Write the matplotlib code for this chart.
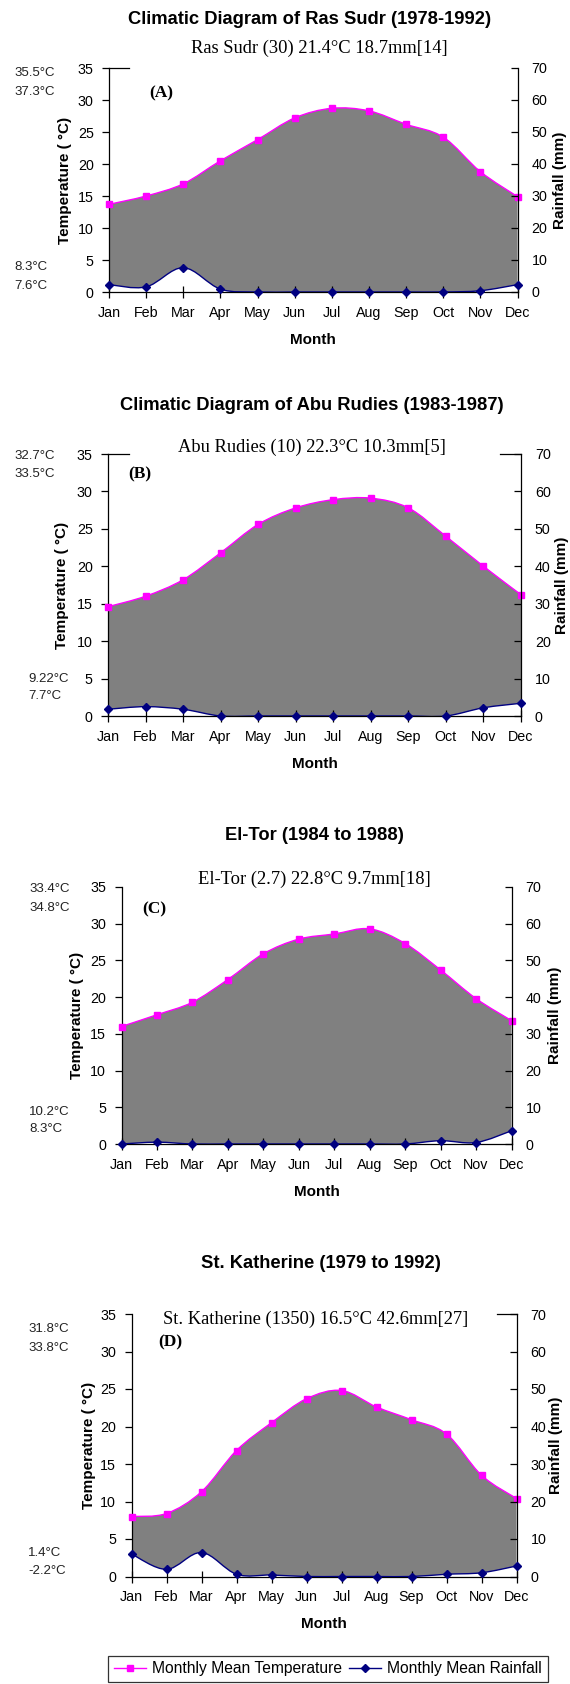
import numpy as np
import matplotlib
matplotlib.use("Agg")
import matplotlib.pyplot as plt
from matplotlib.path import Path
from matplotlib.patches import PathPatch
from matplotlib.lines import Line2D

plt.rcParams['font.family'] = ['Liberation Sans', 'DejaVu Sans']

W, H = 570, 1684

months = ["Jan", "Feb", "Mar", "Apr", "May", "Jun",
          "Jul", "Aug", "Sep", "Oct", "Nov", "Dec"]

# Monthly mean temperature (°C)
temp_ras_sudr = [13.7, 15.0, 16.9, 20.5, 23.8, 27.2, 28.7, 28.3, 26.2, 24.2, 18.8, 14.9]
temp_abu_rudies = [14.6, 16.0, 18.2, 21.8, 25.6, 27.8, 28.9, 29.1, 27.8, 24.0, 20.0, 16.2]
temp_el_tor = [16.0, 17.6, 19.3, 22.4, 25.9, 27.9, 28.6, 29.3, 27.3, 23.7, 19.8, 16.8]
temp_st_katherine = [8.0, 8.4, 11.3, 16.8, 20.5, 23.7, 24.8, 22.6, 20.9, 19.0, 13.5, 10.4]

# Monthly mean rainfall (mm)
rain_ras_sudr = [2.3, 1.6, 7.6, 0.9, 0.0, 0.0, 0.0, 0.0, 0.0, 0.0, 0.4, 2.3]
rain_abu_rudies = [1.8, 2.5, 1.8, 0.0, 0.0, 0.0, 0.0, 0.0, 0.0, 0.0, 2.2, 3.4]
rain_el_tor = [0.0, 0.5, 0.0, 0.0, 0.0, 0.0, 0.0, 0.0, 0.0, 0.9, 0.4, 3.6]
rain_st_katherine = [6.0, 1.9, 6.4, 0.6, 0.4, 0.0, 0.0, 0.0, 0.0, 0.6, 1.0, 2.8]

titles = ["Climatic Diagram of Ras Sudr (1978-1992)",
          "Climatic Diagram of Abu Rudies (1983-1987)",
          "El-Tor (1984 to 1988)",
          "St. Katherine (1979 to 1992)"]
subtitles = ["Ras Sudr (30) 21.4°C 18.7mm[14]",
             "Abu Rudies (10) 22.3°C 10.3mm[5]",
             "El-Tor (2.7) 22.8°C 9.7mm[18]",
             "St. Katherine (1350) 16.5°C 42.6mm[27]"]
panel_tags = ["(A)", "(B)", "(C)", "(D)"]
upper_notes = [("35.5°C", "37.3°C"), ("32.7°C", "33.5°C"),
               ("33.4°C", "34.8°C"), ("31.8°C", "33.8°C")]
lower_notes = [("8.3°C", "7.6°C"), ("9.22°C", "7.7°C"),
               ("10.2°C", "8.3°C"), ("1.4°C", "-2.2°C")]

temps = [temp_ras_sudr, temp_abu_rudies, temp_el_tor, temp_st_katherine]
rains = [rain_ras_sudr, rain_abu_rudies, rain_el_tor, rain_st_katherine]

TEMP_C = "#FF00FF"
RAIN_C = "#000080"
FILL_C = "#808080"

# Layout in pixels: (left, right, top, bottom) of each plot area
boxes = [(109, 517.5, 68, 292),
         (108, 521, 454, 716),
         (121.5, 511.5, 887, 1144),
         (131.5, 516.5, 1314, 1576.5)]
title_pos = [(310, 19), (312, 405), (314, 836), (321, 1263)]
sub_pos = [(319, 48), (312, 447), (314, 879), (316, 1319)]
tag_pos = [(161, 93), (140, 474), (154, 909), (170, 1342)]
note_x = [(14, 14), (14, 28), (29, 29), (28, 28)]
upper_y = [(73, 92), (456, 474), (889, 908), (1329, 1348)]
lower_y = [(267, 286), (679, 696), (1112, 1129), (1553, 1571)]
ylab_x = [(65, 560), (62, 562), (77, 555), (89, 556)]
top_segments = [(True, False), (True, True), (False, False), (False, True)]

fig = plt.figure(figsize=(W / 100, H / 100), dpi=100)
fig.patch.set_facecolor("white")


def px_text(x, y, s, **kw):
    return fig.text(x / W, 1 - y / H, s, **kw)


def smooth_segments(pts):
    """Cubic Bezier segments through pts (Catmull-Rom style smoothing)."""
    pts = np.asarray(pts, float)
    n = len(pts)
    verts, codes = [], []
    for i in range(n - 1):
        p0 = pts[max(i - 1, 0)]
        p1 = pts[i]
        p2 = pts[i + 1]
        p3 = pts[min(i + 2, n - 1)]
        c1 = p1 + (p2 - p0) / 6.0
        c2 = p2 - (p3 - p1) / 6.0
        verts += [tuple(c1), tuple(c2), tuple(p2)]
        codes += [Path.CURVE4] * 3
    return verts, codes


def smooth_path(pts):
    verts, codes = smooth_segments(pts)
    return Path([tuple(pts[0])] + verts, [Path.MOVETO] + codes)


x = np.arange(len(months))

for k in range(4):
    l, r, t, b = boxes[k]
    ax = fig.add_axes([l / W, 1 - b / H, (r - l) / W, (b - t) / H])
    ax2 = ax.twinx()
    ax.set_xlim(0, 11)
    ax.set_ylim(0, 35)
    ax2.set_ylim(0, 70)
    ax.patch.set_visible(False)

    tv = np.asarray(temps[k], float)
    rv = np.asarray(rains[k], float)

    # rainfall expressed in the temperature axis units via the two scales
    rain_disp = ax2.transData.transform(np.column_stack([x, rv]))
    rain_in_t = ax.transData.inverted().transform(rain_disp)
    temp_pts = np.column_stack([x, tv])

    # shaded area between the temperature and rainfall curves
    top_v, top_c = smooth_segments(temp_pts)
    bot_pts = rain_in_t[::-1]
    bot_v, bot_c = smooth_segments(bot_pts)
    verts = [tuple(temp_pts[0])] + top_v + [tuple(bot_pts[0])] + bot_v + [tuple(temp_pts[0])]
    codes = [Path.MOVETO] + top_c + [Path.LINETO] + bot_c + [Path.CLOSEPOLY]
    ax.add_patch(PathPatch(Path(verts, codes), facecolor=FILL_C, edgecolor="none", zorder=1))

    # temperature curve
    ax.add_patch(PathPatch(smooth_path(temp_pts), facecolor="none", edgecolor=TEMP_C,
                           lw=1.0, zorder=3, clip_on=False))
    ax.plot(x, tv, linestyle="none", marker="s", ms=4.6, color=TEMP_C,
            zorder=4, clip_on=False)

    # rainfall curve
    rpts = np.column_stack([x, rv])
    ax2.add_patch(PathPatch(smooth_path(rpts), facecolor="none", edgecolor=RAIN_C,
                            lw=1.0, zorder=3))
    ax2.plot(x, rv, linestyle="none", marker="D", ms=3.8, color=RAIN_C,
             zorder=4, clip_on=False)

    # axes styling
    for a in (ax, ax2):
        a.spines["top"].set_visible(False)
        for s in a.spines.values():
            s.set_linewidth(0.9)
            s.set_color("black")
    ax.spines["right"].set_visible(False)
    ax2.spines["left"].set_visible(False)
    ax2.spines["bottom"].set_visible(False)

    ax.set_xticks(x)
    ax.set_xticklabels(months)
    ax.set_yticks(np.arange(0, 36, 5))
    ax2.set_yticks(np.arange(0, 71, 10))
    ax.tick_params(axis="x", direction="inout", length=8, width=0.9, pad=6,
                   labelsize=10.3)
    ax.tick_params(axis="y", direction="out", length=5, width=0.9, pad=6,
                   labelsize=10.3)
    ax2.tick_params(axis="y", direction="in", length=5, width=0.9, pad=10,
                    labelsize=10.3)

    left_seg, right_seg = top_segments[k]
    if left_seg:
        ax.plot([0, 0.05], [1, 1], transform=ax.transAxes, color="black",
                lw=0.9, clip_on=False, zorder=5)
    if right_seg:
        ax.plot([0.95, 1.0], [1, 1], transform=ax.transAxes, color="black",
                lw=0.9, clip_on=False, zorder=5)

    # texts
    px_text(*title_pos[k], titles[k], ha="center", va="center",
            fontsize=13.2, fontweight="bold")
    px_text(*sub_pos[k], subtitles[k], ha="center", va="center",
            fontsize=13.3, family=["Liberation Serif", "DejaVu Serif"])
    px_text(*tag_pos[k], panel_tags[k], ha="center", va="center",
            fontsize=12.5, fontweight="bold", family=["Liberation Serif", "DejaVu Serif"])
    for txt, yy in zip(upper_notes[k], upper_y[k]):
        px_text(note_x[k][0], yy, txt, ha="left", va="center", fontsize=9.5, color="#222222")
    for txt, yy in zip(lower_notes[k], lower_y[k]):
        px_text(note_x[k][1], yy, txt, ha="left", va="center", fontsize=9.5, color="#222222")

    cy = (t + b) / 2
    px_text(ylab_x[k][0], cy, "Temperature ( °C)", rotation=90, ha="center",
            va="center", fontsize=11, fontweight="bold")
    px_text(ylab_x[k][1], cy, "Rainfall (mm)", rotation=90, ha="center",
            va="center", fontsize=11, fontweight="bold")
    px_text((l + r) / 2, b + 48, "Month", ha="center", va="center",
            fontsize=11, fontweight="bold")

handles = [Line2D([], [], color=TEMP_C, marker="s", ms=4.6, lw=1.0),
           Line2D([], [], color=RAIN_C, marker="D", ms=3.8, lw=1.0)]
leg = fig.legend(handles, ["Monthly Mean Temperature", "Monthly Mean Rainfall"],
                 loc="upper center", bbox_to_anchor=(328 / W, 1 - 1656 / H),
                 ncol=2, fontsize=11.25, frameon=True, fancybox=False,
                 edgecolor="black", borderaxespad=0, handlelength=2.05,
                 handletextpad=0.4, columnspacing=0.45, borderpad=0.35)
leg.get_frame().set_linewidth(0.9)

fig.savefig("out.png", dpi=100, facecolor="white")
